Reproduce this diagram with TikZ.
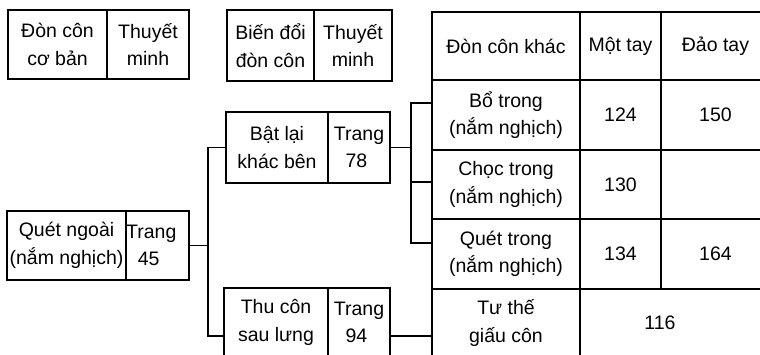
\documentclass[tikz,border=0pt]{standalone}
\usepackage{fontspec}
\setmainfont{Liberation Sans}
\usetikzlibrary{calc}
\begin{document}
\begin{tikzpicture}[x=1pt,y=-1pt,
  cell/.style={draw, line width=1.6pt, inner sep=0pt, outer sep=0pt, align=center,
    font=\fontsize{19.5}{27.5}\selectfont},
  pagecell/.style={cell, align=left},
  link/.style={line width=1.8pt}]
\useasboundingbox (0,0) rectangle (760,355);
\clip (0,0) rectangle (760,355);
\fill[white] (0,0) rectangle (760,355);
% legend boxes
\node[cell, minimum width=99pt, minimum height=69pt] (l1a) at (57.5,44.5) {Đòn côn\\cơ bản};
\node[cell, minimum width=82pt, minimum height=69pt] (l1b) at (148,44.5) {Thuyết\\minh};
\node[cell, minimum width=87pt, minimum height=71pt] (l2a) at (270.5,45.5) {Biến đổi\\đòn côn};
\node[cell, minimum width=78pt, minimum height=71pt] (l2b) at (353,45.5) {Thuyết\\minh};
% main boxes
\node[cell, minimum width=119pt, minimum height=69pt] (qn) at (66.5,245.5) {Quét ngoài\\(nắm nghịch)};
\node[pagecell, minimum width=63pt, minimum height=69pt] (qnp) at (157.5,245.5) {Trang\\\hspace*{0.6em}45\hspace*{1.5em}};
\node[cell, minimum width=102pt, minimum height=71pt] (bl) at (277,147.5) {Bật lại\\khác bên};
\node[pagecell, minimum width=62pt, minimum height=71pt] (blp) at (359,147.5) {Trang\\\hspace*{0.6em}78};
\node[cell, minimum width=104pt, minimum height=69pt] (tc) at (276,322.5) {Thu côn\\sau lưng};
\node[pagecell, minimum width=62pt, minimum height=69pt] (tcp) at (359,322.5) {Trang\\\hspace*{0.6em}94};
% table
\node[cell, minimum width=148pt, minimum height=68pt] (h1) at (506,46) {Đòn côn khác};
\node[cell, minimum width=81pt, minimum height=68pt] (h2) at (620.5,46) {Một tay};
\node[cell, minimum width=109pt, minimum height=68pt] (h3) at (715.5,46) {Đảo tay};
\node[cell, minimum width=148pt, minimum height=70pt] (r1a) at (506,115) {Bổ trong\\(nắm nghịch)};
\node[cell, minimum width=81pt, minimum height=70pt] (r1b) at (620.5,115) {124};
\node[cell, minimum width=109pt, minimum height=70pt] (r1c) at (715.5,115) {150};
\node[cell, minimum width=148pt, minimum height=69pt] (r2a) at (506,184.5) {Chọc trong\\(nắm nghịch)};
\node[cell, minimum width=81pt, minimum height=69pt] (r2b) at (620.5,184.5) {130};
\node[cell, minimum width=109pt, minimum height=69pt] (r2c) at (715.5,184.5) {};
\node[cell, minimum width=148pt, minimum height=70pt] (r3a) at (506,254) {Quét trong\\(nắm nghịch)};
\node[cell, minimum width=81pt, minimum height=70pt] (r3b) at (620.5,254) {134};
\node[cell, minimum width=109pt, minimum height=70pt] (r3c) at (715.5,254) {164};
\node[cell, minimum width=148pt, minimum height=68pt] (r4a) at (506,323) {Tư thế\\giấu côn};
\node[cell, minimum width=190pt, minimum height=68pt] (r4b) at (675,323) {116\hspace*{30pt}};
% connectors
\draw[link] (qnp.east) -- ++(19,0) |- (bl.west);
\draw[link] (qnp.east) ++(19,0) |- ($(tc.north west)+(0,48)$);
\draw[link] (blp.east) -- ++(21,0) coordinate (br);
\draw[link] (br) |- ($(r1a.north west)+(0,23)$);
\draw[link] (br) |- ($(r2a.north west)+(0,32)$);
\draw[link] (br) |- ($(r3a.north west)+(0,24)$);
\draw[link] ($(tcp.north east)+(0,48)$) -- ($(r4a.north west)+(0,47)$);
\end{tikzpicture}
\end{document}
